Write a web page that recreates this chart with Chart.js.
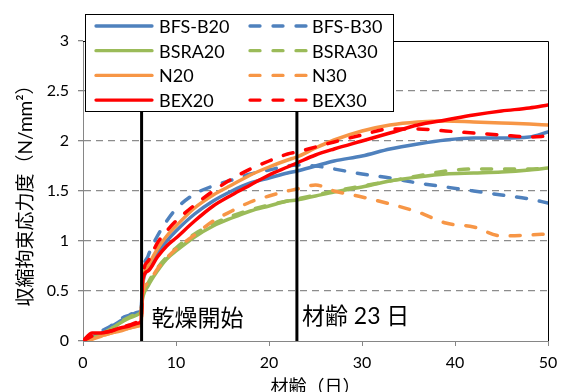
<!DOCTYPE html>
<html>
<head>
<meta charset="utf-8">
<title>収縮拘束応力度</title>
<script src="https://cdn.jsdelivr.net/npm/chart.js@4.4.1/dist/chart.umd.min.js"></script>
<style>
    html, body { margin: 0; padding: 0; overflow: hidden; background: #fff; }
    #wrap { width: 568px; height: 400px; }
</style>
</head>
<body>
<div id="wrap"><canvas id="stress-chart" width="568" height="400"></canvas></div>
<script>
// Age of concrete (days), shared by every curve
const days = [0, 1, 2, 3, 4, 5, 6, 6.25, 6.4, 7, 8, 9, 10, 12, 14, 16, 18, 20, 22, 23, 25, 27, 30, 33, 36, 39, 42, 45, 48, 50];

// Restrained shrinkage stress (N/mm2)
const bfsB20 = [0, 0.04, 0.08, 0.14, 0.2, 0.25, 0.29, 0.3, 0.55, 0.72, 0.88, 1.0, 1.1, 1.27, 1.4, 1.5, 1.58, 1.63, 1.68, 1.7, 1.75, 1.8, 1.85, 1.92, 1.97, 2.01, 2.03, 2.03, 2.04, 2.09];
const bfsB30 = [0, 0.05, 0.1, 0.15, 0.22, 0.26, 0.3, 0.31, 0.62, 0.85, 1.05, 1.2, 1.32, 1.47, 1.55, 1.61, 1.67, 1.71, 1.75, 1.76, 1.75, 1.72, 1.67, 1.63, 1.58, 1.54, 1.5, 1.46, 1.42, 1.38];
const bsra20 = [0, 0.03, 0.07, 0.12, 0.18, 0.23, 0.27, 0.3, 0.42, 0.55, 0.7, 0.82, 0.9, 1.04, 1.15, 1.23, 1.3, 1.35, 1.4, 1.41, 1.45, 1.49, 1.54, 1.6, 1.64, 1.67, 1.68, 1.69, 1.71, 1.73];
const bsra30 = [0, 0.03, 0.07, 0.12, 0.19, 0.24, 0.28, 0.3, 0.45, 0.58, 0.73, 0.84, 0.93, 1.07, 1.17, 1.25, 1.31, 1.36, 1.4, 1.42, 1.46, 1.5, 1.55, 1.6, 1.65, 1.7, 1.72, 1.72, 1.72, 1.73];
const n20 = [0, 0.02, 0.05, 0.08, 0.1, 0.13, 0.15, 0.17, 0.55, 0.75, 0.92, 1.05, 1.15, 1.33, 1.46, 1.56, 1.66, 1.74, 1.81, 1.84, 1.93, 2.01, 2.1, 2.16, 2.19, 2.2, 2.19, 2.18, 2.17, 2.16];
const n30 = [0, 0.02, 0.05, 0.08, 0.1, 0.13, 0.15, 0.17, 0.45, 0.58, 0.72, 0.83, 0.92, 1.06, 1.2, 1.3, 1.39, 1.45, 1.5, 1.52, 1.56, 1.5, 1.44, 1.37, 1.29, 1.18, 1.14, 1.05, 1.06, 1.07];
const bex20 = [0, 0.08, 0.08, 0.1, 0.13, 0.15, 0.18, 0.2, 0.6, 0.7, 0.84, 0.95, 1.03, 1.2, 1.35, 1.46, 1.56, 1.66, 1.74, 1.78, 1.86, 1.92, 2.0, 2.08, 2.16, 2.21, 2.26, 2.3, 2.33, 2.36];
const bex30 = [0, 0.05, 0.08, 0.1, 0.13, 0.16, 0.19, 0.2, 0.62, 0.8, 0.98, 1.1, 1.2, 1.36, 1.5, 1.62, 1.72, 1.8, 1.87, 1.89, 1.94, 1.99, 2.06, 2.12, 2.12, 2.1, 2.08, 2.06, 2.04, 2.05];

// Event markers (days)
const dryStartDay = 6.3;
const markDay = 23;

const BLUE = '#4F81BD';
const GREEN = '#9BBB59';
const ORANGE = '#F79646';
const RED = '#FF0000';
const AXIS_GREY = '#868686';
const JP = "'Noto Sans CJK JP', sans-serif";
const LAT = "Lato, 'Noto Sans CJK JP', sans-serif";

function curve(label, values, color, dashed, order) {
    return {
        label: label,
        data: values.map((v, i) => ({ x: days[i], y: v })),
        borderColor: color,
        backgroundColor: color,
        borderWidth: 3.5,
        borderDash: dashed ? [10, 13] : [],
        borderCapStyle: 'round',
        pointRadius: 0,
        fill: false,
        cubicInterpolationMode: 'monotone',
        order: order,
        inLegend: true
    };
}

function marker(day) {
    return {
        label: '',
        data: [{ x: day, y: 0 }, { x: day, y: 3 }],
        borderColor: '#000',
        borderWidth: 3,
        pointRadius: 0,
        tension: 0,
        order: -1,
        inLegend: false
    };
}

// Legend box drawn inside the plot, two columns
const boxLegend = {
    id: 'boxLegend',
    afterDraw(chart) {
        const ctx = chart.ctx;
        const items = chart.data.datasets.filter(d => d.inLegend);
        ctx.save();
        ctx.fillStyle = '#fff';
        ctx.fillRect(85, 15, 308, 97);
        ctx.strokeStyle = '#000';
        ctx.lineWidth = 1;
        ctx.strokeRect(85.5, 14.5, 308, 97);
        ctx.font = '18px ' + LAT;
        ctx.textBaseline = 'middle';
        items.forEach((ds, i) => {
            const col = i % 2;
            const row = Math.floor(i / 2);
            const y = 26 + row * 24.7;
            const x0 = col ? 250 : 96;
            const x1 = col ? 306 : 152;
            ctx.strokeStyle = ds.borderColor;
            ctx.lineWidth = 3.3;
            ctx.lineCap = 'round';
            ctx.setLineDash(ds.borderDash);
            ctx.beginPath();
            ctx.moveTo(x0, y);
            ctx.lineTo(x1, y);
            ctx.stroke();
            ctx.setLineDash([]);
            ctx.fillStyle = '#000';
            ctx.fillText(ds.label, col ? 312 : 159, y + 1);
        });
        ctx.restore();
    }
};

// Black frame on top/right edges and the marker captions
const frameAndNotes = {
    id: 'frameAndNotes',
    afterDatasetsDraw(chart) {
        const { ctx, chartArea: a, scales: { x, y } } = chart;
        ctx.save();
        ctx.strokeStyle = '#000';
        ctx.lineWidth = 1;
        ctx.beginPath();
        ctx.moveTo(a.left, a.top + 0.5);
        ctx.lineTo(a.right + 0.5, a.top + 0.5);
        ctx.lineTo(a.right + 0.5, a.bottom);
        ctx.stroke();

        ctx.fillStyle = '#000';
        ctx.textBaseline = 'middle';
        ctx.font = '23px ' + JP;
        const ty = y.getPixelForValue(0.24);
        ctx.fillText('乾燥開始', x.getPixelForValue(dryStartDay) + 10, ty);
        ctx.font = '23px ' + LAT;
        ctx.fillText('材齢 23 日', x.getPixelForValue(markDay) + 5, ty);
        ctx.restore();
    }
};

const datasets = [
    curve('BFS-B20', bfsB20, BLUE, false, 8),
    curve('BFS-B30', bfsB30, BLUE, true, 7),
    curve('BSRA20', bsra20, GREEN, false, 6),
    curve('BSRA30', bsra30, GREEN, true, 5),
    curve('N20', n20, ORANGE, false, 4),
    curve('N30', n30, ORANGE, true, 3),
    curve('BEX20', bex20, RED, false, 2),
    curve('BEX30', bex30, RED, true, 1),
    marker(dryStartDay),
    marker(markDay)
];

new Chart(document.getElementById('stress-chart').getContext('2d'), {
    type: 'line',
    data: { datasets: datasets },
    plugins: [frameAndNotes, boxLegend],
    options: {
        responsive: false,
        animation: false,
        layout: { padding: { top: 41, right: 20, left: 0, bottom: 0 } },
        plugins: {
            legend: { display: false },
            tooltip: { enabled: false }
        },
        scales: {
            x: {
                type: 'linear',
                min: 0,
                max: 50,
                afterFit(scale) { scale.height = 59; },
                ticks: {
                    stepSize: 10,
                    padding: 7,
                    color: '#000',
                    font: { family: LAT, size: 16 }
                },
                grid: {
                    drawOnChartArea: false,
                    drawTicks: true,
                    tickLength: 5,
                    tickColor: AXIS_GREY
                },
                border: { color: AXIS_GREY, width: 1 },
                title: {
                    display: true,
                    text: '材齢（日）',
                    color: '#000',
                    font: { family: JP, size: 18 },
                    padding: { top: 0, bottom: 3 }
                }
            },
            y: {
                min: 0,
                max: 3,
                afterFit(scale) { scale.width = 83; },
                ticks: {
                    stepSize: 0.5,
                    padding: 9,
                    color: '#000',
                    font: { family: LAT, size: 16 },
                    callback: (v) => String(v)
                },
                grid: {
                    color: (c) => (c.tick && (c.tick.value === 0 || c.tick.value === 3)) ? 'rgba(0,0,0,0)' : '#8c8c8c',
                    lineWidth: 1.3,
                    tickLength: 5,
                    tickColor: AXIS_GREY,
                    tickBorderDash: []
                },
                border: { color: AXIS_GREY, width: 1, dash: [7, 5] },
                title: {
                    display: true,
                    text: '収縮拘束応力度（N/mm²）',
                    color: '#000',
                    font: { family: LAT, size: 19 },
                    padding: { top: 14, bottom: 0 }
                }
            }
        }
    }
});
</script>
</body>
</html>
